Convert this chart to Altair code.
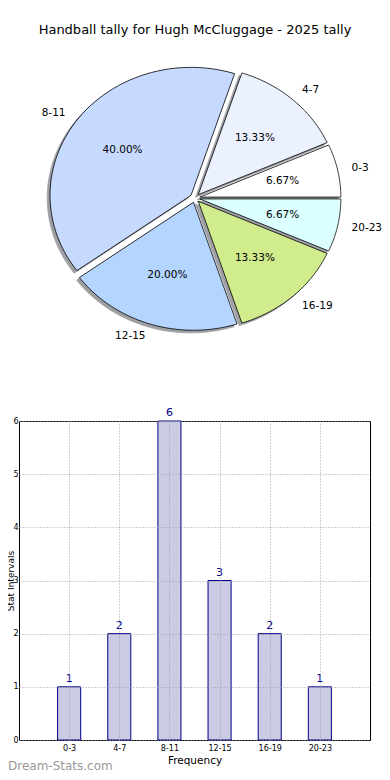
import json
import altair as alt
import pandas as pd

# ---------------- data ----------------
title_text = "Handball tally for Hugh McCluggage - 2025 tally"
categories = ["0-3", "4-7", "8-11", "12-15", "16-19", "20-23"]
counts = [1, 2, 6, 3, 2, 1]
slice_colors = ["#ffffff", "#ebf1ff", "#c6daff", "#b4d5ff", "#d0ec8c", "#dcffff"]
y_ticks = [0, 1, 2, 3, 4, 5, 6]
x_title = "Frequency"
y_title = "Stat Intervals"
watermark = "Dream-Stats.com"

df = pd.DataFrame({"cat": categories, "count": counts, "idx": list(range(len(categories)))})

# ---------------- layout ----------------
FONT = "DejaVu Sans"
PLOT_W, PLOT_H = 351, 319
X_DOM = [-1, 6]
Y_DOM = [0, 6]
CX, CY = 176, -223      # pie centre, pixels relative to the bar plot origin
RX, RY = 141, 128       # pie radii (elliptical like the original)
EXPLODE = 0.035
N = 60                  # points per wedge arc

# pixel -> data-unit conversion so the pie shares the chart's own scales
XK = (X_DOM[1] - X_DOM[0]) / PLOT_W
YK = (Y_DOM[1] - Y_DOM[0]) / PLOT_H


def to_x(expr):
    return f"{X_DOM[0]} + ({expr})*{XK}"


def to_y(expr):
    return f"{Y_DOM[1]} - ({expr})*{YK}"


x_scale = alt.Scale(domain=X_DOM, nice=False, zero=False)
y_scale = alt.Scale(domain=Y_DOM, nice=False, zero=True)


def sx(field):
    return alt.X(field, scale=x_scale)


def sy(field):
    return alt.Y(field, scale=y_scale)


# ---------------- pie ----------------
pie_base = (
    alt.Chart(df)
    .transform_window(cum="sum(count)", sort=[alt.SortField("idx")], frame=[None, 0])
    .transform_joinaggregate(total="sum(count)")
    .transform_calculate(a0="2*PI*(datum.cum - datum.count)/datum.total")
    .transform_calculate(a1="2*PI*datum.cum/datum.total")
    .transform_calculate(mid="(datum.a0 + datum.a1)/2")
    .transform_calculate(ox=f"{CX} + {EXPLODE * RX}*cos(datum.mid)")
    .transform_calculate(oy=f"{CY} - {EXPLODE * RY}*sin(datum.mid)")
)

wedge_base = (
    pie_base.transform_calculate(k=f"sequence(0, {N + 2})")
    .transform_flatten(["k"])
    .transform_calculate(ang=f"datum.a0 + (datum.a1 - datum.a0)*clamp(datum.k - 1, 0, {N - 1})/{N - 1}")
    .transform_calculate(apex=f"datum.k == 0 || datum.k == {N + 1}")
    .transform_calculate(px=f"datum.apex ? datum.ox : datum.ox + {RX}*cos(datum.ang)")
    .transform_calculate(py=f"datum.apex ? datum.oy : datum.oy - {RY}*sin(datum.ang)")
    .transform_calculate(wx=to_x("datum.px"), wy=to_y("datum.py"))
    .transform_calculate(shx=to_x("datum.px - 2.8"), shy=to_y("datum.py + 2.6"))
)

shadow = wedge_base.mark_line(
    fill="#3f434c", stroke="#3f434c", strokeWidth=0.8, opacity=0.5
).encode(x=sx("shx:Q"), y=sy("shy:Q"), detail="cat:N", order="k:Q")

wedges = wedge_base.mark_line(stroke="black", strokeWidth=0.8, strokeJoin="miter").encode(
    x=sx("wx:Q"),
    y=sy("wy:Q"),
    fill=alt.Fill("cat:N", scale=alt.Scale(domain=categories, range=slice_colors), legend=None),
    detail="cat:N",
    order="k:Q",
)

pct_text = (
    pie_base.transform_calculate(tx=to_x(f"datum.ox + {0.6 * RX}*cos(datum.mid)"))
    .transform_calculate(ty=to_y(f"datum.oy - {0.6 * RY}*sin(datum.mid)"))
    .transform_calculate(pct="format(100*datum.count/datum.total, '.2f') + '%'")
    .mark_text(font=FONT, fontSize=10.5, color="black", align="center", baseline="middle")
    .encode(x=sx("tx:Q"), y=sy("ty:Q"), text="pct:N")
)

lbl_base = (
    pie_base.transform_calculate(lx=to_x(f"datum.ox + {1.1 * RX}*cos(datum.mid)"))
    .transform_calculate(ly=to_y(f"datum.oy - {1.1 * RY}*sin(datum.mid)"))
)
lbl_right_side = (
    lbl_base.transform_filter("cos(datum.mid) > 0")
    .mark_text(font=FONT, fontSize=10.5, color="black", align="left", baseline="middle")
    .encode(x=sx("lx:Q"), y=sy("ly:Q"), text="cat:N")
)
lbl_left_side = (
    lbl_base.transform_filter("cos(datum.mid) <= 0")
    .mark_text(font=FONT, fontSize=10.5, color="black", align="right", baseline="middle")
    .encode(x=sx("lx:Q"), y=sy("ly:Q"), text="cat:N")
)

title_df = pd.DataFrame({"t": [title_text]})
title_mark = alt.Chart(title_df).mark_text(
    font=FONT, fontSize=13, color="black", align="center", baseline="middle"
).encode(x=alt.value(176), y=alt.value(-391), text="t:N")

# ---------------- bars ----------------
label_expr = f"{json.dumps(categories)}[datum.value]"

bar_base = alt.Chart(df).transform_calculate(
    x0="datum.idx - 0.23", x1="datum.idx + 0.23", zero="0"
)

bars = bar_base.mark_bar(fill="#cbcbe4", stroke="#00008b", strokeWidth=1).encode(
    x=alt.X(
        "x0:Q",
        scale=x_scale,
        axis=alt.Axis(
            values=list(range(len(categories))),
            labelExpr=label_expr,
            title=x_title,
            grid=True,
            gridDash=[1, 2],
            gridColor="#a0a0a0",
            gridWidth=1,
            ticks=False,
            domain=False,
            labelFont=FONT,
            labelFontSize=8,
            labelColor="black",
            labelPadding=4,
            titleFont=FONT,
            titleFontSize=10.5,
            titleFontWeight="normal",
            titleColor="black",
            titleY=20,
            titleBaseline="middle",
            zindex=1,
        ),
    ),
    x2="x1:Q",
    y=alt.Y(
        "count:Q",
        scale=y_scale,
        axis=alt.Axis(
            values=y_ticks,
            title=y_title,
            grid=True,
            gridDash=[1, 2],
            gridColor="#a0a0a0",
            gridWidth=1,
            ticks=False,
            domain=False,
            labelFont=FONT,
            labelFontSize=8,
            labelColor="black",
            labelPadding=1,
            titleFont=FONT,
            titleFontSize=9,
            titleFontWeight="normal",
            titleColor="black",
            titleX=-5.5,
            titleBaseline="alphabetic",
            zindex=1,
        ),
    ),
    y2="zero:Q",
)

bar_labels = bar_base.mark_text(
    font=FONT, fontSize=11, color="#00008b", dy=-5, baseline="alphabetic", align="center"
).encode(x=sx("idx:Q"), y=sy("count:Q"), text="count:Q")

wm_df = pd.DataFrame({"t": [watermark]})
wm_mark = alt.Chart(wm_df).mark_text(
    font=FONT, fontSize=12, color="#999999", align="left", baseline="alphabetic"
).encode(x=alt.value(-11), y=alt.value(349), text="t:N")

chart = (
    alt.layer(
        bars, bar_labels,
        shadow, wedges, pct_text, lbl_right_side, lbl_left_side, title_mark,
        wm_mark,
    )
    .properties(
        width=PLOT_W,
        height=PLOT_H,
        autosize=alt.AutoSizeParams(type="none"),
        padding={"left": 11, "top": 413, "right": 12, "bottom": 34},
    )
    .configure(font=FONT)
    .configure_view(stroke="black", strokeWidth=1)
)

chart.save("out.html", embed_options={"renderer": "svg", "actions": False})
